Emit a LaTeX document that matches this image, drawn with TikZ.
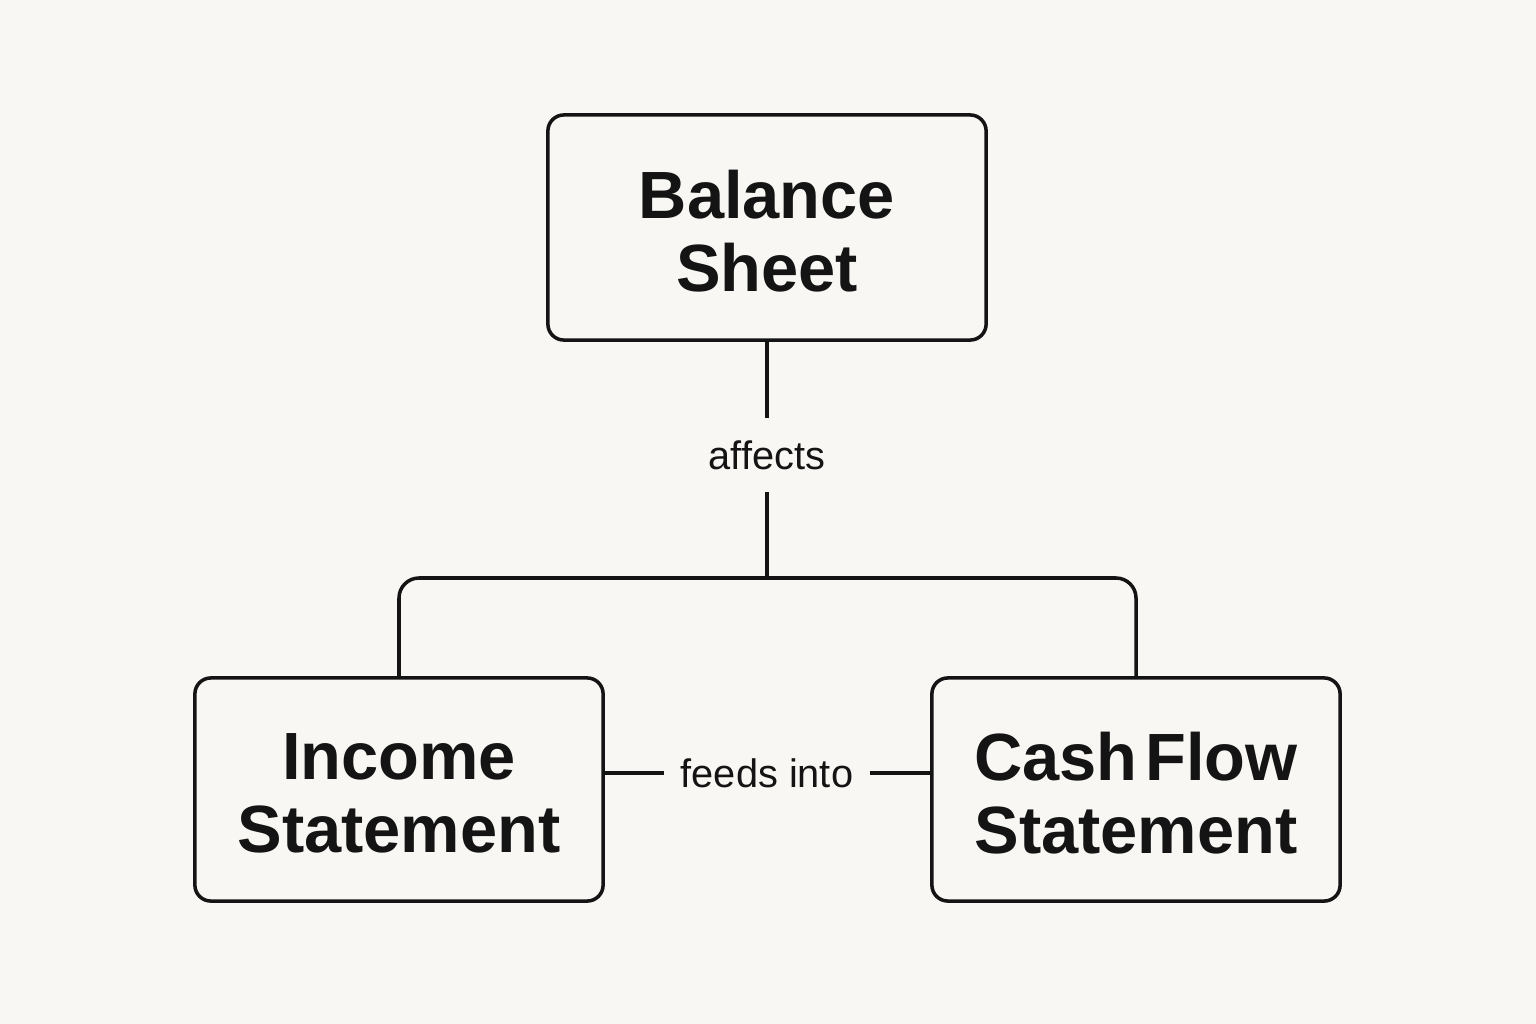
\documentclass[tikz,border=0pt]{standalone}
\usepackage{fontspec}
\setmainfont{Liberation Sans}
\definecolor{bg}{HTML}{F8F7F3}
\definecolor{ink}{HTML}{141414}
\begin{document}
\begin{tikzpicture}[x=0.01cm,y=-0.01cm,
  box/.style={draw=ink,line width=1pt,rounded corners=0.16cm,inner sep=0pt},
  boxtext/.style={align=center,font=\fontsize{19}{20.8}\selectfont\bfseries,text=ink,inner sep=0pt},
  lbl/.style={font=\fontsize{11.3}{13}\selectfont,text=ink,inner sep=0pt},
  conn/.style={draw=ink,line width=1pt}]
\fill[bg] (0,0) rectangle (1536,1024);
\useasboundingbox (0,0) rectangle (1536,1024);
\node[box,minimum width=4.38cm,minimum height=2.25cm] (bs) at (767,227.5) {};
\node[boxtext] (bst) at (767,231) {Balance\\Sheet};
\node[box,minimum width=4.08cm,minimum height=2.23cm] (inc) at (399,789.5) {};
\node[boxtext] (inct) at (399,793) {Income\\Statement};
\node[box,minimum width=4.08cm,minimum height=2.23cm] (cf) at (1136,789.5) {};
\node[boxtext] (cft) at (1136,793) {Cash\hspace{0.12em}Flow\\Statement};
\node[lbl,minimum height=0.72cm] (aff) at (767,455) {affects};
\node[lbl,minimum width=2.04cm] (fi) at (767,773) {feeds into};
\coordinate (j) at (767,578);
\draw[conn] (bs.south) -- (aff.north);
\draw[conn] (aff.south) -- (j);
\draw[conn,rounded corners=0.2cm] (inc.north) -- (inc.north |- j) -- (cf.north |- j) -- (cf.north);
\draw[conn] (inc.east |- fi.west) -- (fi.west);
\draw[conn] (fi.east) -- (cf.west |- fi.east);
\end{tikzpicture}
\end{document}
